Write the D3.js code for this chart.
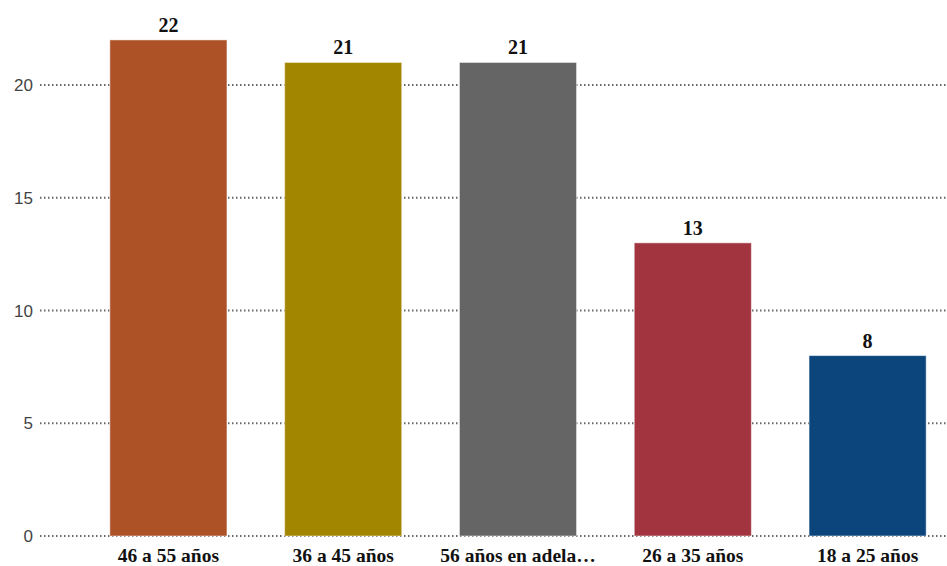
<!DOCTYPE html>
<html><head><meta charset="utf-8">
<script src="https://cdn.jsdelivr.net/npm/d3@7"></script>
<style>body{margin:0;background:#fff}</style>
</head><body>
<svg id="c" width="947" height="566"></svg>
<script>
const categories = ["46 a 55 años","36 a 45 años","56 años en adela…","26 a 35 años","18 a 25 años"];
const values = [22,21,21,13,8];
const colors = ["#AD5127","#A38600","#656565","#A1343F","#0B457C"];
const yTicks = [0,5,10,15,20];

const svg = d3.select("#c");
const y = d3.scaleLinear().domain([0,20]).range([536,85]);
const x = d3.scaleBand().domain(categories).range([81,955]).paddingInner(0.33).paddingOuter(0.165);

const grid = svg.append("g");
grid.selectAll("line").data(yTicks).join("line")
  .attr("x1",40).attr("x2",947)
  .attr("y1",d=>y(d)).attr("y2",d=>y(d))
  .attr("stroke","#666").attr("stroke-width",2).attr("stroke-dasharray","1.5,2.5");
grid.selectAll("text").data(yTicks).join("text")
  .attr("x",33).attr("y",d=>y(d)+6)
  .attr("text-anchor","end").attr("font-family","'Liberation Sans', Arial, sans-serif")
  .attr("font-size",17).attr("fill","#444").text(d=>d);

svg.append("g").selectAll("rect").data(values).join("rect")
  .attr("x",(d,i)=>x(categories[i])).attr("width",x.bandwidth())
  .attr("y",d=>y(d)).attr("height",d=>y(0)-y(d))
  .attr("fill",(d,i)=>colors[i]).attr("stroke","#fff").attr("stroke-opacity",0.5).attr("stroke-width",1);

svg.append("g").selectAll("text").data(values).join("text")
  .attr("x",(d,i)=>x(categories[i])+x.bandwidth()/2).attr("y",d=>y(d)-8)
  .attr("text-anchor","middle").attr("font-family","'Liberation Serif', 'Times New Roman', serif")
  .attr("font-weight","bold").attr("font-size",20).attr("fill","#111").text(d=>d);

svg.append("g").selectAll("text").data(categories).join("text")
  .attr("x",d=>x(d)+x.bandwidth()/2).attr("y",562)
  .attr("text-anchor","middle").attr("font-family","'Liberation Serif', 'Times New Roman', serif")
  .attr("font-weight","bold").attr("font-size",19.5).attr("fill","#111").text(d=>d);
</script>
</body></html>
